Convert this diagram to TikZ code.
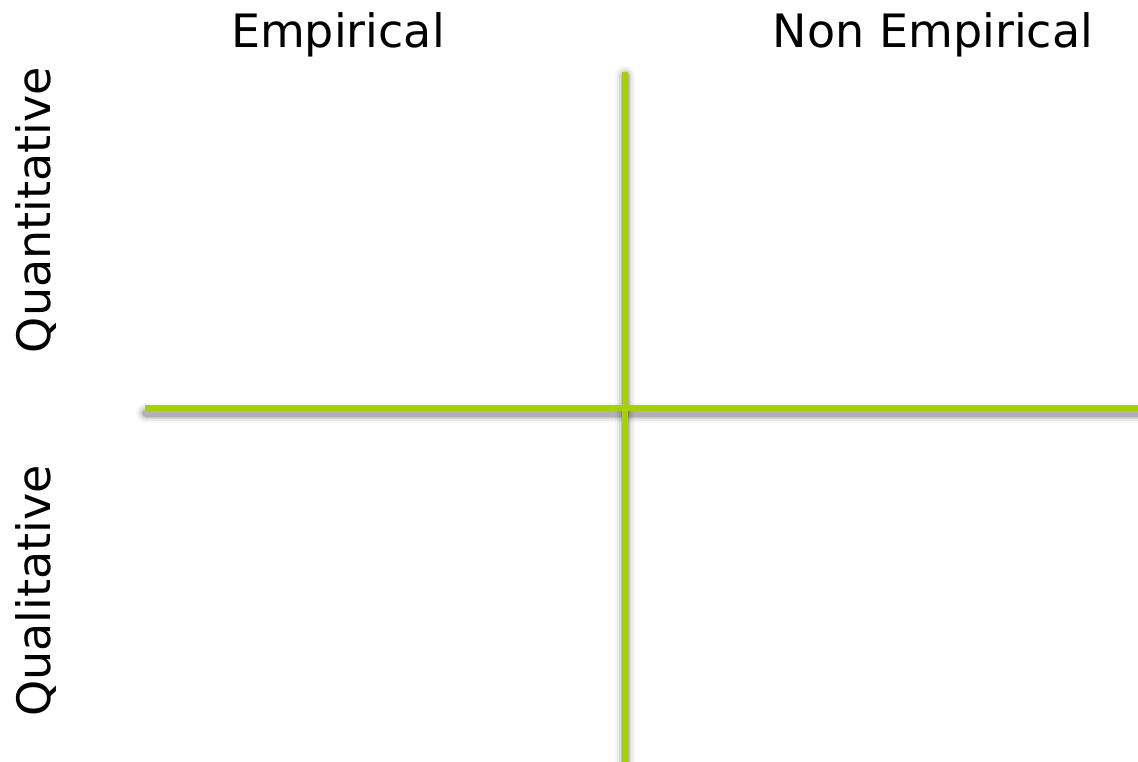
\documentclass[tikz,border=0pt]{standalone}
\usepackage{fontspec}
\setmainfont{DejaVu Sans}
\definecolor{axisgreen}{RGB}{166,208,0}
\begin{document}
\begin{tikzpicture}[x=1pt,y=-1pt,
  label text/.style={font=\fontsize{46}{55}\selectfont, text=black, inner sep=0pt, anchor=base},
  axis/.style={draw=axisgreen, line width=6.5pt},
  shadow line/.style={draw=black, line cap=round}]
\useasboundingbox (0,0) rectangle (1138,761);
\coordinate (hl) at (145,408);
\coordinate (hr) at (1140,408);
\coordinate (vt) at (625,72);
\coordinate (vb) at (625,763);
% soft shadows
\foreach \w/\o in {20/0.03,16/0.05,12/0.07,9/0.09,7/0.1}{
  \draw[shadow line, line width=\w pt, opacity=\o] ([shift={(1,5)}]hl) -- ([shift={(1,5)}]hr);
  \draw[shadow line, line width=\w pt, opacity=\o] ([shift={(0,4)}]vt) -- ([shift={(0,4)}]vb);
}
\draw[axis] (vt) -- (vb);
\draw[axis] (hl) -- (hr);
\node[label text] (emp) at (338,47) {Empirical};
\node[label text] (nonemp) at (933,47) {Non Empirical};
\node[label text, rotate=90] (quant) at (50,210) {Quantitative};
\node[label text, rotate=90] (qual) at (50,591) {Qualitative};
\end{tikzpicture}
\end{document}
